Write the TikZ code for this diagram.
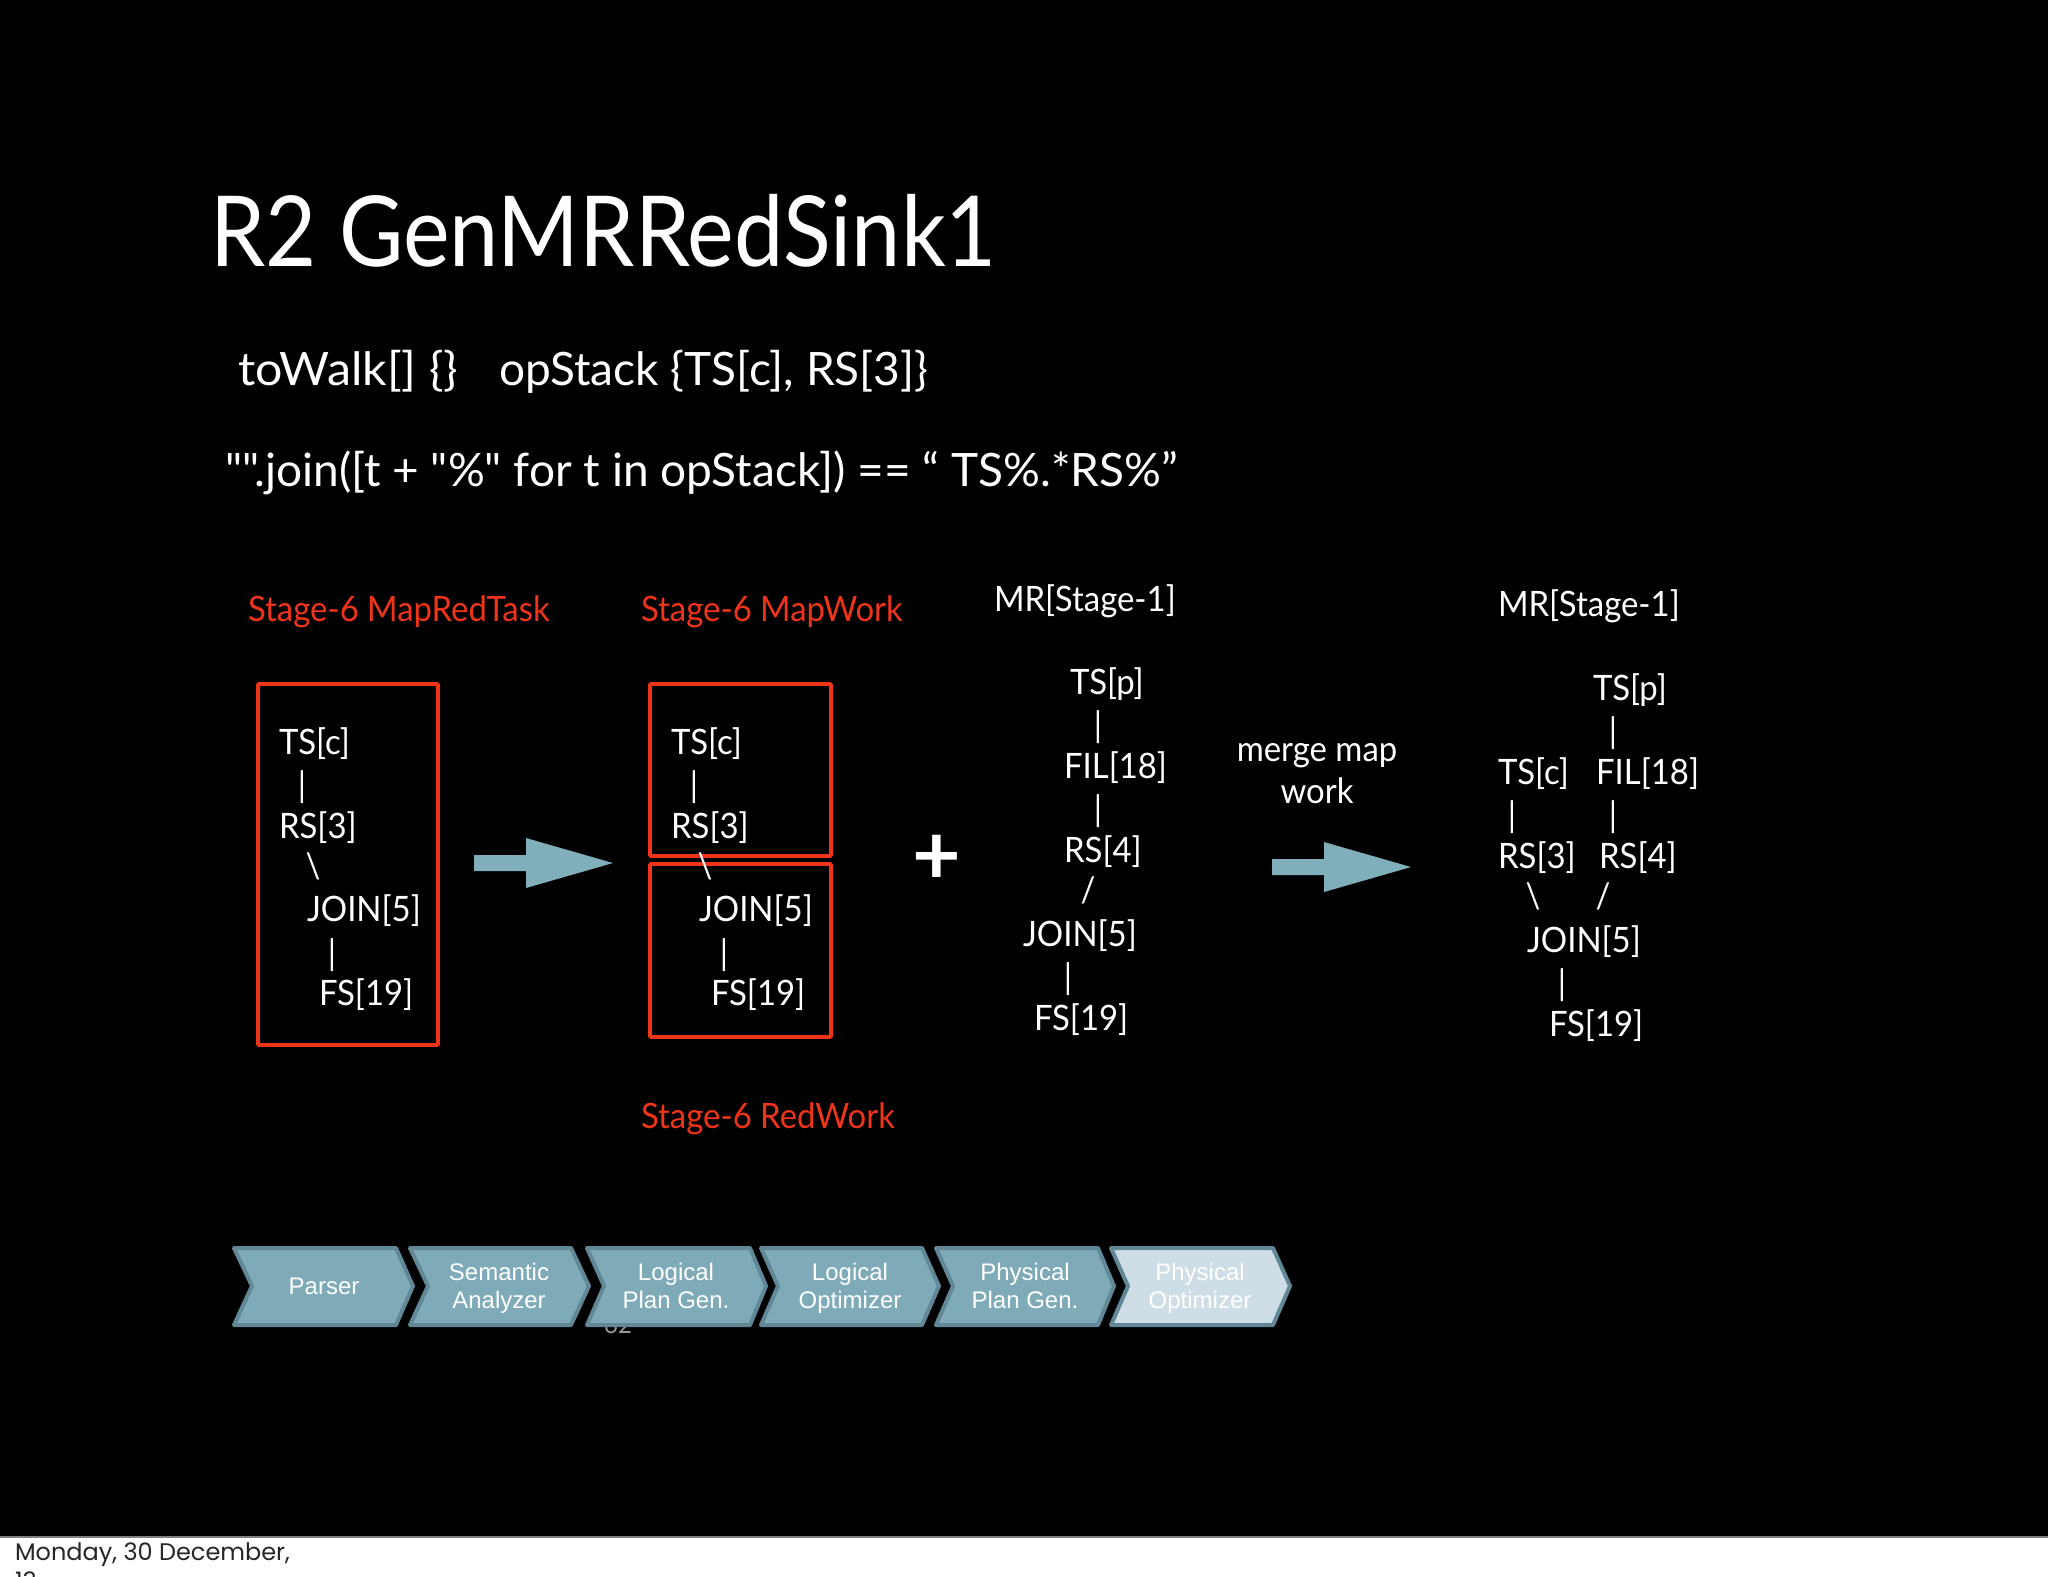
\documentclass[tikz,border=0pt]{standalone}
\usepackage{fontspec}
\newfontfamily\gillplain{Lato}
\newfontfamily\gilltitle[FakeStretch=0.9]{Lato}
\newfontfamily\gill[FakeStretch=0.94]{Lato}
\newfontfamily\gillwide[FakeStretch=1.05]{Lato}
\newfontfamily\chevfont{Liberation Sans}
\newfontfamily\footfont{Poppins}
\definecolor{slidered}{HTML}{F0341A}
\definecolor{arrowblue}{HTML}{81AEBB}
\definecolor{chevfill}{HTML}{7FABB9}
\definecolor{chevedge}{HTML}{628796}
\definecolor{chevlight}{HTML}{CFDEE6}
\newcommand{\chs}{\rule[-3.5pt]{0pt}{14pt}}
\tikzset{
  x=0.5pt,y=-0.5pt,
  txt/.style={inner sep=0pt,outer sep=0pt,anchor=base west,text=white},
  titletxt/.style={txt,font=\gilltitle\fontsize{49}{49}\selectfont},
  bigtxt/.style={txt,font=\gillplain\fontsize{23}{23}\selectfont},
  redtxt/.style={txt,text=slidered,font=\gill\fontsize{17.5}{17.5}\selectfont},
  treetxt/.style={txt,font=\gill\fontsize{17.5}{17.5}\selectfont},
  linktxt/.style={treetxt,anchor=center},
  redbox/.style={draw=slidered,line width=1.8pt,rounded corners=0.5pt},
  blockarrow/.style={fill=arrowblue},
  chev/.style={draw=chevedge,line width=2pt,line join=round,fill=chevfill},
  chevlast/.style={chev,fill=chevlight},
  chevtxt/.style={inner sep=0pt,text=white,align=center,font=\chevfont\fontsize{12}{14}\selectfont},
}
\begin{document}
\begin{tikzpicture}
\useasboundingbox (0,0) rectangle (2048,1576);
\clip (0,0) rectangle (2048,1576);
\fill[white] (0,0) rectangle (2048,1576);
\fill[black] (0,0) rectangle (2048,1537);
\draw[gray,line width=1pt] (0,1537) -- (2048,1537);

\node[titletxt] (title) at (210,266) {R2 GenMRRedSink1};
\node[bigtxt,font=\gillwide\fontsize{23}{23}\selectfont] (walk) at (238,385) {toWalk[] \{\}};
\node[bigtxt] (stack) at (499,385) {opStack \{TS[c], RS[3]\}};
\node[bigtxt] (join) at (225,486) {"".join([t + "\%" for t in opStack]) == “ TS\%.*RS\%”};

\node[redtxt] (l1) at (248,621) {Stage-6 MapRedTask};
\node[redtxt] (l2) at (641,621) {Stage-6 MapWork};
\node[redtxt] (l3) at (641,1128) {Stage-6 RedWork};
\node[treetxt] (mr1) at (994,611) {MR[Stage-1]};
\node[treetxt] (mr2) at (1498,616) {MR[Stage-1]};

\draw[redbox] (258,684) rectangle (438,1045);
\draw[redbox] (650,684) rectangle (831,856);
\draw[redbox] (650,864) rectangle (831,1037);

% tree 1
\node[treetxt] (a1) at (279,754) {TS[c]};
\node[linktxt] (a2) at (302,787) {|};
\node[treetxt] (a3) at (279,838) {RS[3]};
\node[linktxt] (a4) at (313,866) {\textbackslash};
\node[treetxt] (a5) at (307,921) {JOIN[5]};
\node[linktxt] (a6) at (332,955) {|};
\node[treetxt] (a7) at (319,1005) {FS[19]};
% tree 2
\node[treetxt] (b1) at (671,754) {TS[c]};
\node[linktxt] (b2) at (694,787) {|};
\node[treetxt] (b3) at (671,838) {RS[3]};
\node[linktxt] (b4) at (705,866) {\textbackslash};
\node[treetxt] (b5) at (699,921) {JOIN[5]};
\node[linktxt] (b6) at (724,955) {|};
\node[treetxt] (b7) at (711,1005) {FS[19]};
% tree 3
\node[treetxt] (c1) at (1070,694) {TS[p]};
\node[linktxt] (c2) at (1098,727) {|};
\node[treetxt] (c3) at (1064,778) {FIL[18]};
\node[linktxt] (c4) at (1098,811) {|};
\node[treetxt] (c5) at (1064,862) {RS[4]};
\node[linktxt] (c6) at (1088,890) {/};
\node[treetxt] (c7) at (1023,946) {JOIN[5]};
\node[linktxt] (c8) at (1068,979) {|};
\node[treetxt] (c9) at (1034,1030) {FS[19]};
% tree 4
\node[treetxt] (d1) at (1593,700) {TS[p]};
\node[linktxt] (d2) at (1613,733) {|};
\node[treetxt] (d3) at (1498,784) {TS[c]};
\node[treetxt] (d4) at (1596,784) {FIL[18]};
\node[linktxt] (d5) at (1512,817) {|};
\node[linktxt] (d6) at (1613,817) {|};
\node[treetxt] (d7) at (1498,868) {RS[3]};
\node[treetxt] (d8) at (1599,868) {RS[4]};
\node[linktxt] (d9) at (1533,896) {\textbackslash};
\node[linktxt] (d10) at (1603,896) {/};
\node[treetxt] (d11) at (1527,952) {JOIN[5]};
\node[linktxt] (d12) at (1562,985) {|};
\node[treetxt] (d13) at (1549,1036) {FS[19]};

\node[treetxt,anchor=base] (m1) at (1317,761) {merge map};
\node[treetxt,anchor=base] (m2) at (1317,803) {work};
\node[txt,anchor=center,font=\gillplain\fontsize{42}{42}\selectfont\bfseries] (plus) at (937,860) {+};

\fill[blockarrow] (474,855) -- (526,855) -- (526,838) -- (613,863) -- (526,888) -- (526,871) -- (474,871) -- cycle;
\fill[blockarrow] (1272,859) -- (1324,859) -- (1324,842) -- (1411,867) -- (1324,892) -- (1324,875) -- (1272,875) -- cycle;

\node[txt,anchor=base,text=gray!80,font=\gillplain\fontsize{12}{12}\selectfont] (page) at (618,1333) {62};

\draw[chev] (234,1248) -- (396,1248) -- (413,1286) -- (396,1325) -- (234,1325) -- (252,1286) -- cycle;
\draw[chev] (410,1248) -- (571,1248) -- (589,1286) -- (571,1325) -- (410,1325) -- (428,1286) -- cycle;
\draw[chev] (587,1248) -- (750,1248) -- (766,1286) -- (750,1325) -- (587,1325) -- (604,1286) -- cycle;
\draw[chev] (761,1248) -- (922,1248) -- (939,1286) -- (922,1325) -- (761,1325) -- (778,1286) -- cycle;
\draw[chev] (936,1248) -- (1098,1248) -- (1114,1286) -- (1098,1325) -- (936,1325) -- (953,1286) -- cycle;
\draw[chevlast] (1111,1248) -- (1273,1248) -- (1290,1286) -- (1273,1325) -- (1111,1325) -- (1128,1286) -- cycle;

\node[chevtxt] (p1) at (324,1287) {\chs Parser};
\node[chevtxt] (p2) at (499,1287) {\chs Semantic\\\chs Analyzer};
\node[chevtxt] (p3) at (676,1287) {\chs Logical\\\chs Plan Gen.};
\node[chevtxt] (p4) at (850,1287) {\chs Logical\\\chs Optimizer};
\node[chevtxt] (p5) at (1025,1287) {\chs Physical\\\chs Plan Gen.};
\node[chevtxt] (p6) at (1200,1287) {\chs Physical\\\chs Optimizer};

\node[txt,text=black!85,font=\footfont\fontsize{12}{12}\selectfont] (foot1) at (15,1560) {Monday, 30 December,};
\node[txt,text=black!85,font=\footfont\fontsize{12}{12}\selectfont] (foot2) at (15,1589) {13};
\end{tikzpicture}
\end{document}
